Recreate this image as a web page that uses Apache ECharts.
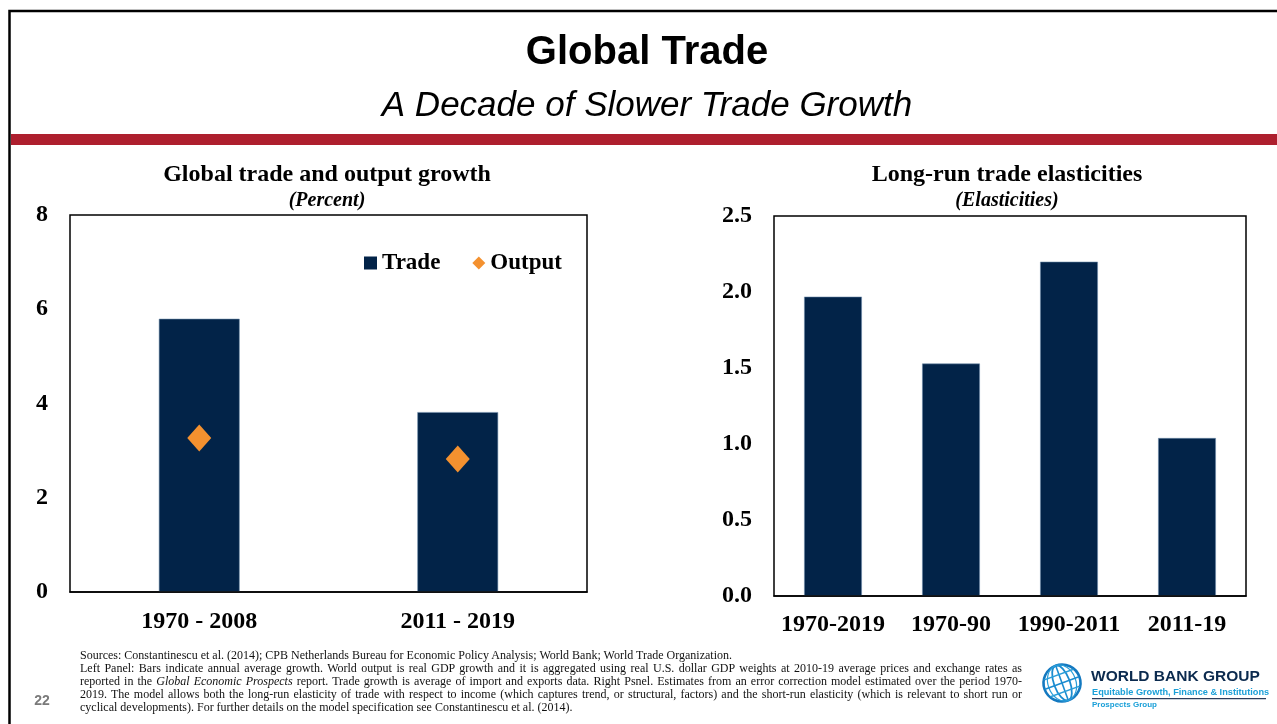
<!DOCTYPE html>
<html>
<head>
<meta charset="utf-8">
<title>Global Trade</title>
<script src="https://cdn.jsdelivr.net/npm/echarts@6/dist/echarts.min.js"></script>
<style>
  html, body { margin: 0; padding: 0; background: #fff; }
  #wrap { position: relative; width: 1277px; height: 724px; overflow: hidden; }
  #chart { position: absolute; left: 0; top: 0; width: 1277px; height: 724px; }
  #notes {
    position: absolute; left: 80px; top: 649px; width: 942px;
    font-family: "Liberation Serif", "Times New Roman", serif;
    font-size: 12px; line-height: 12.9px; color: #111;
  }
  #notes div { white-space: nowrap; }
  #notes div.j { text-align: justify; text-align-last: justify; white-space: normal; }
</style>
</head>
<body>
<div id="wrap">
  <div id="chart"></div>
  <div id="notes">
    <div>Sources: Constantinescu et al. (2014); CPB Netherlands Bureau for Economic Policy Analysis; World Bank; World Trade Organization.</div>
    <div class="j">Left Panel: Bars indicate annual average growth. World output is real GDP growth and it is aggregated using real U.S. dollar GDP weights at 2010-19 average prices and exchange rates as</div>
    <div class="j">reported in the <i>Global Economic Prospects</i> report. Trade growth is average of import and exports data. Right Psnel. Estimates from an error correction model estimated over the period 1970-</div>
    <div class="j">2019. The model allows both the long-run elasticity of trade with respect to income (which captures trend, or structural, factors) and the short-run elasticity (which is relevant to short run or</div>
    <div>cyclical developments). For further details on the model specification see Constantinescu et al. (2014).</div>
  </div>
</div>
<script>
// Left panel: average annual growth, percent
const growthPeriods = ['1970 - 2008', '2011 - 2019'];
const tradeGrowth = [5.8, 3.82];
const outputGrowth = [3.27, 2.82];
const growthTicks = [0, 2, 4, 6, 8];

// Right panel: long-run trade elasticities
const elasticityPeriods = ['1970-2019', '1970-90', '1990-2011', '2011-19'];
const elasticities = [1.97, 1.53, 2.2, 1.04];
const elasticityTicks = [0, 0.5, 1, 1.5, 2, 2.5];

const NAVY = '#022348';
const ORANGE = '#F4912F';
const SERIF = '"Liberation Serif", "Times New Roman", serif';
const SANS = '"Liberation Sans", Arial, sans-serif';

const chart = echarts.init(document.getElementById('chart'), null, { renderer: 'canvas' });

const axisLabelStyle = { fontFamily: SERIF, fontWeight: 'bold', fontSize: 24, color: '#000' };

const option = {
  animation: false,
  backgroundColor: '#fff',
  textStyle: { fontFamily: SERIF },
  legend: {
    data: [{ name: 'Trade', icon: 'rect' }, { name: 'Output', icon: 'diamond' }],
    left: 359,
    top: 245,
    itemWidth: 13,
    itemHeight: 13,
    itemGap: 32,
    itemStyle: { borderWidth: 0 },
    textStyle: { fontFamily: SERIF, fontWeight: 'bold', fontSize: 23, color: '#000', lineHeight: 26 },
    selectedMode: false
  },
  grid: [
    { left: 70, top: 215, width: 517, height: 377, show: true, borderColor: '#000', borderWidth: 1.5, backgroundColor: 'transparent' },
    { left: 774, top: 216, width: 472, height: 380, show: true, borderColor: '#000', borderWidth: 1.5, backgroundColor: 'transparent' }
  ],
  xAxis: [
    {
      gridIndex: 0, type: 'category', data: growthPeriods, z: 10,
      axisLine: { show: true, lineStyle: { color: '#000', width: 1.5 } },
      axisTick: { show: false },
      axisLabel: Object.assign({ margin: 18, interval: 0 }, axisLabelStyle)
    },
    {
      gridIndex: 1, type: 'category', data: elasticityPeriods, z: 10,
      axisLine: { show: true, lineStyle: { color: '#000', width: 1.5 } },
      axisTick: { show: false },
      axisLabel: Object.assign({ margin: 17, interval: 0 }, axisLabelStyle)
    }
  ],
  yAxis: [
    {
      gridIndex: 0, type: 'value',
      min: growthTicks[0], max: growthTicks[growthTicks.length - 1], interval: growthTicks[1] - growthTicks[0],
      axisLine: { show: false }, axisTick: { show: false }, splitLine: { show: false },
      axisLabel: Object.assign({ margin: 22 }, axisLabelStyle)
    },
    {
      gridIndex: 1, type: 'value',
      min: elasticityTicks[0], max: elasticityTicks[elasticityTicks.length - 1], interval: elasticityTicks[1] - elasticityTicks[0],
      axisLine: { show: false }, axisTick: { show: false }, splitLine: { show: false },
      axisLabel: Object.assign({ margin: 22, formatter: v => v.toFixed(1) }, axisLabelStyle)
    }
  ],
  series: [
    {
      name: 'Trade', type: 'bar', xAxisIndex: 0, yAxisIndex: 0,
      data: tradeGrowth, barWidth: 81,
      itemStyle: { color: NAVY, borderColor: 'rgba(110,140,170,0.7)', borderWidth: 0.8 }
    },
    {
      name: 'Output', type: 'scatter', xAxisIndex: 0, yAxisIndex: 0,
      data: outputGrowth, symbol: 'diamond', symbolSize: [24, 27], z: 5,
      itemStyle: { color: ORANGE, opacity: 1 }
    },
    {
      name: 'Elasticity', type: 'bar', xAxisIndex: 1, yAxisIndex: 1,
      data: elasticities, barWidth: 58,
      itemStyle: { color: NAVY, borderColor: 'rgba(110,140,170,0.7)', borderWidth: 0.8 }
    }
  ],
  graphic: [
    // slide frame
    { type: 'polyline', silent: true, shape: { points: [[9.5, 724], [9.5, 11], [1277, 11]] },
      style: { stroke: '#000', lineWidth: 2.5, fill: null } },
    // headline band
    { type: 'rect', silent: true, shape: { x: 11, y: 134, width: 1266, height: 11 }, style: { fill: '#AE1F2E' } },
    { type: 'text', silent: true, x: 647, y: 53,
      style: { text: 'Global Trade', font: 'bold 40px ' + SANS, fill: '#000', textAlign: 'center', textVerticalAlign: 'middle' } },
    { type: 'text', silent: true, x: 647, y: 106,
      style: { text: 'A Decade of Slower Trade Growth', font: 'italic 35px ' + SANS, fill: '#000', textAlign: 'center', textVerticalAlign: 'middle' } },
    // panel titles
    { type: 'text', silent: true, x: 327, y: 175,
      style: { text: 'Global trade and output growth', font: 'bold 24px ' + SERIF, fill: '#000', textAlign: 'center', textVerticalAlign: 'middle' } },
    { type: 'text', silent: true, x: 327, y: 201,
      style: { text: '(Percent)', font: 'italic bold 20px ' + SERIF, fill: '#000', textAlign: 'center', textVerticalAlign: 'middle' } },
    { type: 'text', silent: true, x: 1007, y: 175,
      style: { text: 'Long-run trade elasticities', font: 'bold 24px ' + SERIF, fill: '#000', textAlign: 'center', textVerticalAlign: 'middle' } },
    { type: 'text', silent: true, x: 1007, y: 201,
      style: { text: '(Elasticities)', font: 'italic bold 20px ' + SERIF, fill: '#000', textAlign: 'center', textVerticalAlign: 'middle' } },
    // page number
    { type: 'text', silent: true, x: 42, y: 701,
      style: { text: '22', font: 'bold 14px ' + SANS, fill: '#7a7a7a', textAlign: 'center', textVerticalAlign: 'middle' } },
    // logo: globe
    { type: 'group', silent: true, x: 1062, y: 683, rotation: 0.35, children: [
      { type: 'circle', shape: { cx: 0, cy: 0, r: 18.5 }, style: { fill: null, stroke: '#1479C0', lineWidth: 2.6 } },
      { type: 'ellipse', shape: { cx: 0, cy: 0, rx: 8, ry: 18.5 }, style: { fill: null, stroke: '#1B8CD0', lineWidth: 1.8 } },
      { type: 'ellipse', shape: { cx: 0, cy: 0, rx: 14, ry: 18.5 }, style: { fill: null, stroke: '#2A9ED9', lineWidth: 1.2 } },
      { type: 'line', shape: { x1: 0, y1: -18, x2: 0, y2: 18 }, style: { stroke: '#1B8CD0', lineWidth: 1.6 } },
      { type: 'line', shape: { x1: -18, y1: 0, x2: 18, y2: 0 }, style: { stroke: '#1B8CD0', lineWidth: 1.6 } },
      { type: 'line', shape: { x1: -15.5, y1: -9, x2: 15.5, y2: -9 }, style: { stroke: '#2A9ED9', lineWidth: 1.4 } },
      { type: 'line', shape: { x1: -15.5, y1: 9, x2: 15.5, y2: 9 }, style: { stroke: '#2A9ED9', lineWidth: 1.4 } }
    ] },
    // logo: wordmark
    { type: 'text', silent: true, x: 1091, y: 677,
      style: { text: 'WORLD BANK GROUP', font: 'bold 15.5px ' + SANS, fill: '#0B2A4E', textVerticalAlign: 'middle' } },
    { type: 'text', silent: true, x: 1092, y: 692,
      style: { text: 'Equitable Growth, Finance & Institutions', font: 'bold 9.2px ' + SANS, fill: '#1BA0D8', textVerticalAlign: 'middle' } },
    { type: 'rect', silent: true, shape: { x: 1092, y: 698, width: 174, height: 1.2 }, style: { fill: '#2B3D5C' } },
    { type: 'text', silent: true, x: 1092, y: 705,
      style: { text: 'Prospects Group', font: 'bold 8px ' + SANS, fill: '#1BA0D8', textVerticalAlign: 'middle' } }
  ]
};

chart.setOption(option);
</script>
</body>
</html>
